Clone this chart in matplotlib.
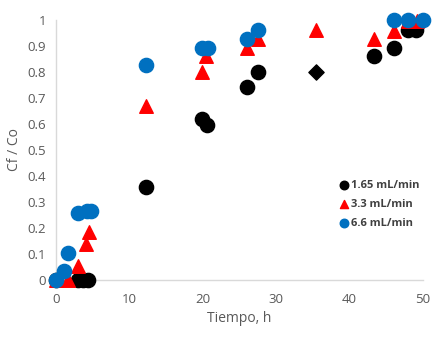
import matplotlib
matplotlib.use("Agg")
import matplotlib.pyplot as plt

# 1.65 mL/min
t_165 = [0, 3.0, 3.7, 4.4, 12.3, 19.85, 20.6, 26.1, 27.6, 43.4, 46.0, 48.0, 49.0]
c_165 = [0, 0, 0, 0, 0.358, 0.619, 0.596, 0.742, 0.80, 0.862, 0.890, 0.960, 0.960]
t_165_diamond = [35.4]
c_165_diamond = [0.80]

# 3.3 mL/min
t_33 = [0, 1.7, 3.0, 4.1, 4.5, 12.3, 19.85, 20.5, 26.1, 27.6, 35.4, 43.4, 46.0, 48.0, 49.2]
c_33 = [0, 0, 0.055, 0.14, 0.185, 0.67, 0.80, 0.862, 0.893, 0.925, 0.962, 0.927, 0.958, 0.995, 0.995]

# 6.6 mL/min
t_66 = [0, 1.1, 1.7, 3.0, 4.2, 4.8, 12.3, 19.85, 20.75, 26.1, 27.6, 46.0, 48.0, 50.0]
c_66 = [0, 0.036, 0.105, 0.256, 0.265, 0.265, 0.828, 0.892, 0.892, 0.925, 0.96, 0.998, 0.998, 0.998]

plt.rcParams['font.family'] = ['Open Sans', 'DejaVu Sans']
gray = '#595959'

fig = plt.figure(figsize=(4.47, 3.42), dpi=100)
ax = fig.add_axes([0.125, 0.181, 0.821, 0.761])

ax.scatter(t_165, c_165, s=105, color='black', marker='o', clip_on=False, zorder=3,
           label='1.65 mL/min')
ax.scatter(t_165_diamond, c_165_diamond, s=60, color='black', marker='D', clip_on=False, zorder=3)
ax.scatter(t_33, c_33, s=95, color='#FF0000', marker='^', clip_on=False, zorder=3,
           label='3.3 mL/min')
ax.scatter(t_66, c_66, s=105, color='#0070C0', marker='o', clip_on=False, zorder=4,
           label='6.6 mL/min')

ax.set_xlim(0, 50)
ax.set_ylim(0, 1)
ax.set_xticks(range(0, 51, 10))
ax.set_yticks([i / 10 for i in range(11)])
ax.set_yticklabels(['0', '0.1', '0.2', '0.3', '0.4', '0.5', '0.6', '0.7', '0.8', '0.9', '1'])

for side in ['top', 'right']:
    ax.spines[side].set_visible(False)
for side in ['left', 'bottom']:
    ax.spines[side].set_color('#D9D9D9')
    ax.spines[side].set_linewidth(1.0)
ax.tick_params(length=0, colors=gray, labelsize=9.5)
ax.tick_params(axis='x', pad=9)
ax.tick_params(axis='y', pad=7)

ax.set_xlabel('Tiempo, h', color=gray, fontsize=10, labelpad=4)
ax.set_ylabel('Cf / Co', color=gray, fontsize=10, labelpad=4)

leg = ax.legend(loc='center left', bbox_to_anchor=(0.748, 0.29), frameon=False,
                handletextpad=0.2, borderpad=0.2, labelspacing=0.7,
                prop={'weight': 'bold', 'size': 8}, markerscale=0.6, handlelength=1.0)
for txt in leg.get_texts():
    txt.set_color('#404040')

fig.savefig('out.png', dpi=100)
